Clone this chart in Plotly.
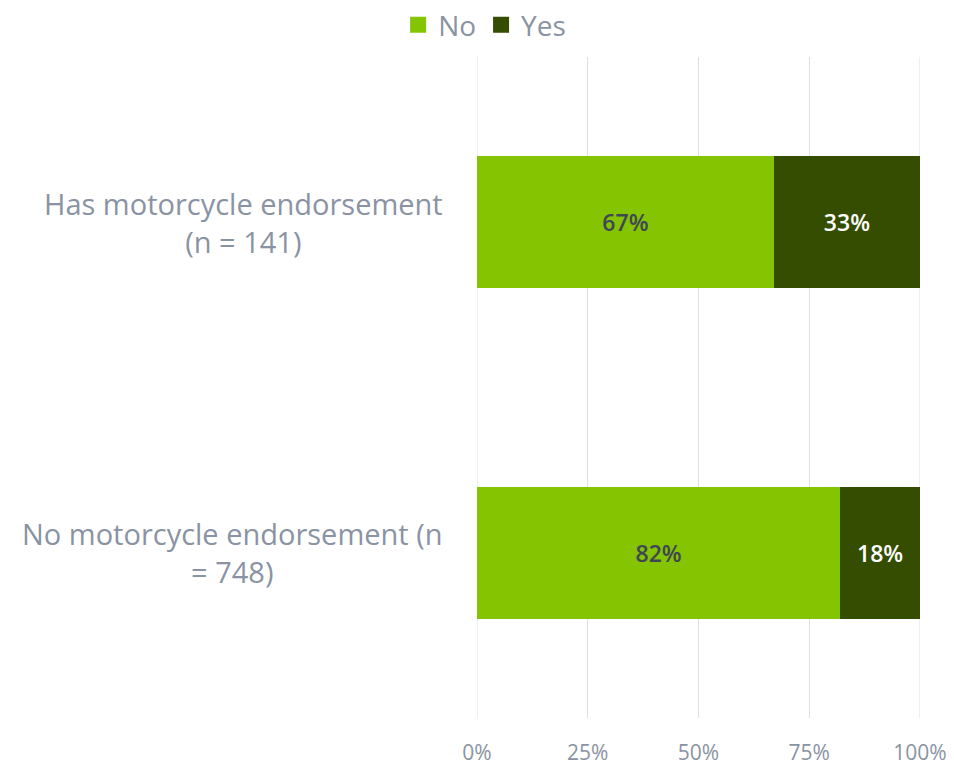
import plotly.graph_objects as go

categories = ["Has motorcycle endorsement<br>(n = 141)", "No motorcycle endorsement (n<br>= 748)"]
series_names = ["No", "Yes"]
no_values = [67, 82]
yes_values = [33, 18]
tick_vals = [0, 25, 50, 75, 100]
tick_text = ["0%", "25%", "50%", "75%", "100%"]

FONT = "Open Sans"
LIGHT = "#84c400"
DARK = "#354d00"
GREY = "#8a93a3"
GRID = "#dcdfe4"

fig = go.Figure()
fig.add_trace(go.Bar(
    name=series_names[0], y=categories, x=no_values, orientation="h",
    marker=dict(color=LIGHT, line=dict(width=0)), showlegend=False,
    text=[f"{v}%" for v in no_values], textposition="inside",
    insidetextanchor="middle",
    textfont=dict(family=FONT, size=23, color="#3f4654", weight=600),
))
fig.add_trace(go.Bar(
    name=series_names[1], y=categories, x=yes_values, orientation="h",
    marker=dict(color=DARK, line=dict(width=0)), showlegend=False,
    text=[f"{v}%" for v in yes_values], textposition="inside",
    insidetextanchor="middle",
    textfont=dict(family=FONT, size=23, color="#ffffff", weight=600),
))

# legend entries with larger square swatches
for name, color in zip(series_names, [LIGHT, DARK]):
    fig.add_trace(go.Scatter(
        x=[None], y=[None], mode="markers", name=name,
        marker=dict(symbol="square", size=18, color=color),
    ))

# gridlines at the ends of the value axis
for v in (tick_vals[0], tick_vals[-1]):
    fig.add_vline(x=v, line=dict(color=GRID, width=1), layer="below")

# category labels drawn as centred multi-line blocks, right edge at the axis
for cat in categories:
    fig.add_annotation(
        x=0, y=cat, xref="paper", yref="y", xanchor="right", xshift=-32,
        text=cat, showarrow=False, align="center",
        font=dict(family=FONT, size=29, color=GREY),
    )

fig.update_layout(
    width=954, height=767,
    barmode="stack", bargap=0.6,
    plot_bgcolor="white", paper_bgcolor="white",
    margin=dict(l=477, r=34, t=57, b=49, autoexpand=False),
    font=dict(family=FONT, color=GREY),
    legend=dict(
        orientation="h", x=0.508, xref="container", xanchor="center",
        y=1.0, yref="container", yanchor="top",
        font=dict(family=FONT, size=28, color=GREY),
        itemsizing="trace", itemwidth=30, traceorder="normal",
    ),
    xaxis=dict(
        range=[0, 100], tickvals=tick_vals, ticktext=tick_text,
        showgrid=True, gridcolor=GRID, gridwidth=1,
        zeroline=False, showline=False,
        tickfont=dict(family=FONT, size=21, color=GREY),
        ticklabelstandoff=20,
    ),
    yaxis=dict(
        autorange="reversed", showticklabels=False,
        showgrid=False, zeroline=False, showline=False,
    ),
)

fig.write_html("out.html")
